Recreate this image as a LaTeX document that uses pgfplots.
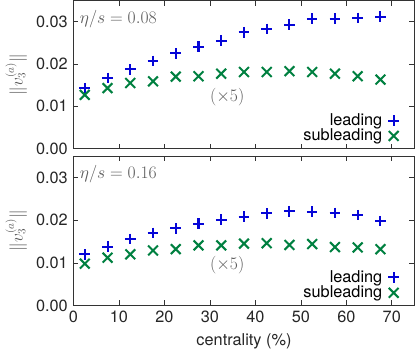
\documentclass[border=0pt]{standalone}
\usepackage{pgfplots}
\pgfplotsset{compat=1.18}
\usepackage{fontspec}
\setmainfont{TeX Gyre Heros}
\definecolor{myblue}{RGB}{5,5,215}
\definecolor{mygreen}{RGB}{0,128,64}
\definecolor{txtgray}{RGB}{90,90,90}
\begin{document}
\fontsize{16}{19}\selectfont
\begin{tikzpicture}
\pgfplotsset{
  panel/.style={
    scale only axis, width=335pt, height=145.5pt,
    xmin=0, xmax=75, ymin=0, ymax=0.035,
    xtick={0,10,20,30,40,50,60,70},
    ytick={0,0.01,0.02,0.03},
    tick align=inside, major tick length=5pt,
    tick style={color=black!80, line width=0.6pt},
    axis line style={color=black!80, line width=0.9pt},
    yticklabel style={/pgf/number format/fixed, /pgf/number format/precision=2, /pgf/number format/fixed zerofill},
    scaled y ticks=false,
    /pgf/number format/assume math mode=true,
    tick label style={font=\fontsize{16}{19}\selectfont, color=black!85},
    ylabel={$\|v_3^{(a)}\|$},
    ylabel style={color=txtgray, font=\fontsize{16}{19}\selectfont, yshift=-2pt},
    legend style={draw=none, fill=none, at={(rel axis cs:0.958,0.015)}, anchor=south east,
      font=\fontsize{16}{19}\selectfont, row sep=-3pt, column sep=4pt, inner sep=1pt},
    legend cell align=right, legend plot pos=right,
  },
  lead/.style={only marks, mark=+, mark size=5.2pt, color=myblue, mark options={line width=2pt, solid}},
  sub/.style={only marks, mark=x, mark size=6.8pt, color=mygreen, mark options={line width=2pt, solid}},
}
\begin{axis}[panel, name=top, at={(0,0)}, anchor=north west, xticklabels={}]
\addplot[lead] coordinates {(2.5,0.0143)(7.5,0.0167)(12.5,0.0187)(17.5,0.0207)(22.5,0.0225)(27.5,0.0241)(32.5,0.0255)(37.5,0.0275)(42.5,0.0283)(47.5,0.0293)(52.5,0.0307)(57.5,0.0307)(62.5,0.0309)(67.5,0.0312)};
\addplot[sub] coordinates {(2.5,0.0127)(7.5,0.0143)(12.5,0.0155)(17.5,0.0159)(22.5,0.0170)(27.5,0.0171)(32.5,0.0177)(37.5,0.0181)(42.5,0.0181)(47.5,0.0183)(52.5,0.0181)(57.5,0.0177)(62.5,0.0171)(67.5,0.0163)};
\legend{leading, subleading}
\node[anchor=west, color=txtgray, inner sep=0pt] at (axis cs:1.4,0.0307) {$\eta/s=0.08$};
\node[color=txtgray, inner sep=0pt] at (axis cs:33.8,0.0122) {$(\times 5)$};
\end{axis}
\begin{axis}[panel, name=bot, at={(0,-153pt)}, anchor=north west, height=146.5pt,
  xlabel={centrality (\%)}, xlabel style={font=\fontsize{16}{19}\selectfont, color=black!85}]
\addplot[lead] coordinates {(2.5,0.0120)(7.5,0.0138)(12.5,0.0156)(17.5,0.0170)(22.5,0.0181)(27.5,0.0192)(32.5,0.0201)(37.5,0.0208)(42.5,0.0216)(47.5,0.0221)(52.5,0.0220)(57.5,0.0217)(62.5,0.0212)(67.5,0.0198)};
\addplot[sub] coordinates {(2.5,0.0098)(7.5,0.0112)(12.5,0.0120)(17.5,0.0129)(22.5,0.0132)(27.5,0.0141)(32.5,0.0141)(37.5,0.0145)(42.5,0.0146)(47.5,0.0142)(52.5,0.0144)(57.5,0.0137)(62.5,0.0136)(67.5,0.0132)};
\legend{leading, subleading}
\node[anchor=west, color=txtgray, inner sep=0pt] at (axis cs:1.4,0.0307) {$\eta/s=0.16$};
\node[color=txtgray, inner sep=0pt] at (axis cs:33.8,0.00945) {$(\times 5)$};
\end{axis}
\end{tikzpicture}
\end{document}
